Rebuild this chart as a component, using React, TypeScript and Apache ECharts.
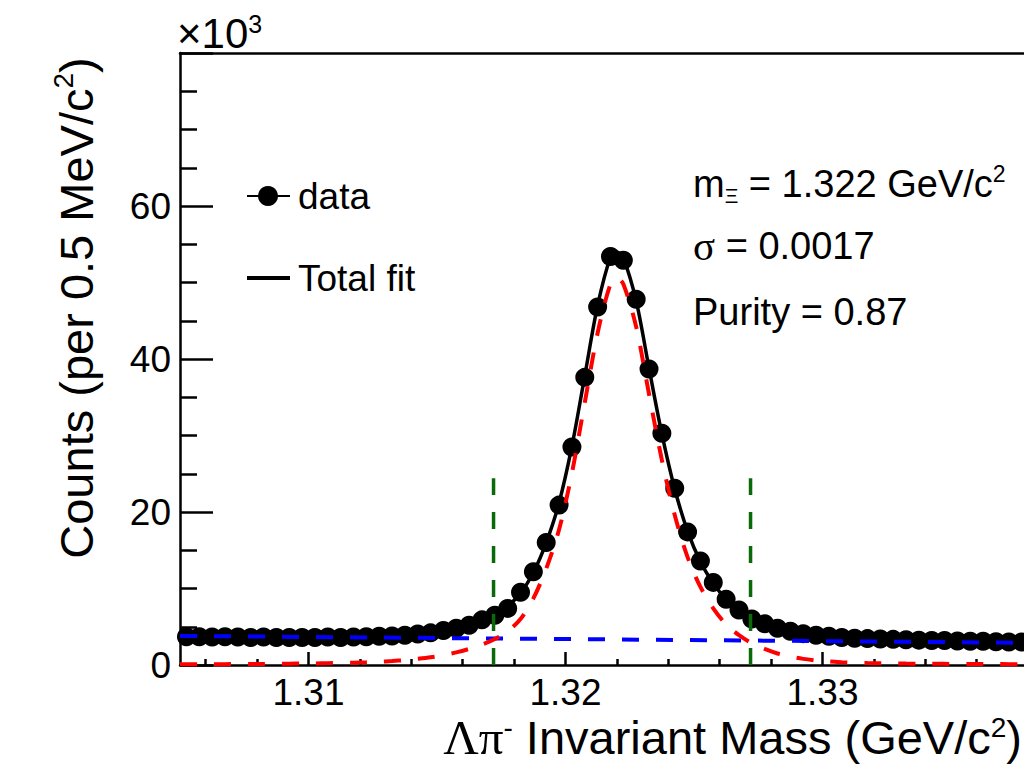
import React, { useEffect, useRef } from 'react';
import * as echarts from 'echarts';

// Bin centres (GeV/c^2), 0.5 MeV bins
const binCenters = [
  1.30525, 1.30575, 1.30625, 1.30675, 1.30725, 1.30775, 1.30825, 1.30875, 1.30925, 1.30975,
  1.31025, 1.31075, 1.31125, 1.31175, 1.31225, 1.31275, 1.31325, 1.31375, 1.31425, 1.31475,
  1.31525, 1.31575, 1.31625, 1.31675, 1.31725, 1.31775, 1.31825, 1.31875, 1.31925, 1.31975,
  1.32025, 1.32075, 1.32125, 1.32175, 1.32225, 1.32275, 1.32325, 1.32375, 1.32425, 1.32475,
  1.32525, 1.32575, 1.32625, 1.32675, 1.32725, 1.32775, 1.32825, 1.32875, 1.32925, 1.32975,
  1.33025, 1.33075, 1.33125, 1.33175, 1.33225, 1.33275, 1.33325, 1.33375, 1.33425, 1.33475,
  1.33525, 1.33575, 1.33625, 1.33675, 1.33725, 1.33775, 1.33825,
];

// Data counts (x10^3)
const counts = [
  3.7, 3.7, 3.65, 3.7, 3.65, 3.6, 3.65, 3.6, 3.6, 3.6,
  3.6, 3.65, 3.6, 3.65, 3.7, 3.75, 3.8, 3.9, 4.05, 4.2,
  4.5, 4.8, 5.2, 5.9, 6.5, 7.4, 9.5, 12.2, 16.0, 20.9,
  28.5, 37.6, 46.8, 53.4, 52.9, 47.8, 38.7, 30.3, 23.1, 17.4,
  13.6, 10.8, 8.6, 7.2, 6.0, 5.4, 4.8, 4.4, 4.1, 3.9,
  3.75, 3.6, 3.5, 3.45, 3.4, 3.35, 3.3, 3.25, 3.2, 3.2,
  3.15, 3.1, 3.1, 3.05, 3.0, 3.0, 2.95,
];

// Curve sample positions: range ends, bin centres and the peak position
const curveX = [1.305, ...binCenters.slice(0, 34), 1.322, ...binCenters.slice(34), 1.34];

// Total fit (x10^3)
const totalFit = [
  3.72,
  3.72, 3.71, 3.7, 3.69, 3.68, 3.67, 3.67, 3.66, 3.66, 3.66,
  3.66, 3.67, 3.68, 3.7, 3.73, 3.77, 3.83, 3.92, 4.04, 4.2,
  4.45, 4.8, 5.25, 5.85, 6.65, 7.7, 9.4, 12.1, 16.0, 21.2,
  28.6, 37.8, 47.0, 53.3,
  54.0,
  53.2, 47.6, 38.8, 30.2, 23.0, 17.5, 13.5, 10.7, 8.6, 7.2,
  6.1, 5.35, 4.8, 4.4, 4.1, 3.88, 3.72, 3.6, 3.5, 3.43,
  3.38, 3.33, 3.29, 3.25, 3.21, 3.18, 3.14, 3.11, 3.08, 3.05,
  3.02, 2.99, 2.96,
  2.9,
];

// Signal component (x10^3)
const signalFit = [
  0.1,
  0.1, 0.1, 0.1, 0.11, 0.12, 0.13, 0.14, 0.15, 0.17, 0.19,
  0.21, 0.24, 0.27, 0.31, 0.36, 0.43, 0.52, 0.64, 0.8, 1.0,
  1.3, 1.65, 2.1, 2.65, 3.4, 4.4, 6.0, 8.7, 12.6, 17.7,
  25.1, 34.3, 43.4, 49.8,
  50.6,
  49.8, 44.2, 35.4, 26.8, 19.6, 14.1, 10.2, 7.4, 5.3, 3.9,
  2.85, 2.1, 1.5, 1.1, 0.8, 0.6, 0.46, 0.37, 0.3, 0.26,
  0.23, 0.2, 0.18, 0.17, 0.16, 0.15, 0.14, 0.13, 0.12, 0.12,
  0.11, 0.11, 0.1,
  0.09,
];

// Linear background (x10^3)
const bkgX = [1.305, 1.34];
const bkgY = [3.8, 2.85];

// Signal window edges
const windowEdges = [1.3172, 1.3272];
const windowTop = 24.4;

// Axis ticks / labels
const xMajorTicks = [1.31, 1.32, 1.33];
const xMinorTicks = [1.306, 1.308, 1.312, 1.314, 1.316, 1.318, 1.322, 1.324, 1.326, 1.328, 1.332, 1.334, 1.336, 1.338];
const yLabels = [0, 20, 40, 60];

const SANS = 'Liberation Sans, Arial, Helvetica, sans-serif';
const SERIF = 'Liberation Serif, Times New Roman, serif';

export default function App() {
  const ref = useRef<HTMLDivElement>(null);
  useEffect(() => {
    const chart = echarts.init(ref.current!, null, { renderer: 'svg' });
    const axisColor = '#000';
    const xMin = 1.305;
    const xMax = 1.34;

    const option: any = {
      animation: false,
      backgroundColor: '#fff',
      grid: { left: 180, top: 53, width: 899.5, height: 612, containLabel: false, outerBoundsMode: 'none' },
      xAxis: [
        {
          type: 'value', min: xMin, max: xMax, position: 'bottom',
          axisLine: { show: true, onZero: false, lineStyle: { color: axisColor, width: 2.5 } },
          axisTick: { show: true, inside: true, length: 13, customValues: xMajorTicks, lineStyle: { color: axisColor, width: 2.5 } },
          axisLabel: { show: true, customValues: xMajorTicks, color: '#000', fontSize: 37, fontFamily: SANS, margin: 9, lineHeight: 36 },
          splitLine: { show: false },
        },
        {
          type: 'value', min: xMin, max: xMax, position: 'bottom',
          axisLine: { show: false, onZero: false },
          axisTick: { show: true, inside: true, length: 6, customValues: xMinorTicks, lineStyle: { color: axisColor, width: 2.5 } },
          axisLabel: { show: false },
          splitLine: { show: false },
        },
        {
          type: 'value', min: xMin, max: xMax, position: 'top',
          axisLine: { show: true, onZero: false, lineStyle: { color: axisColor, width: 2.5 } },
          axisTick: { show: false },
          axisLabel: { show: false },
          splitLine: { show: false },
        },
      ],
      yAxis: [
        {
          type: 'value', min: 0, max: 80, interval: 20, position: 'left',
          axisLine: { show: true, onZero: false, lineStyle: { color: axisColor, width: 2.5 } },
          axisTick: { show: true, inside: true, length: 33, lineStyle: { color: axisColor, width: 2.5 } },
          minorTick: { show: true, splitNumber: 4, length: 17, lineStyle: { color: axisColor, width: 2.5 } },
          axisLabel: { show: true, customValues: yLabels, color: '#000', fontSize: 37, fontFamily: SANS, margin: 9 },
          splitLine: { show: false },
          minorSplitLine: { show: false },
        },
        {
          type: 'value', min: 0, max: 80, position: 'right',
          axisLine: { show: true, onZero: false, lineStyle: { color: axisColor, width: 2.5 } },
          axisTick: { show: false },
          axisLabel: { show: false },
          splitLine: { show: false },
        },
      ],
      series: [
        {
          name: 'data', type: 'scatter', xAxisIndex: 0, yAxisIndex: 0,
          symbol: 'circle', symbolSize: 19, z: 2,
          itemStyle: { color: '#000', opacity: 1 },
          data: binCenters.map((x, i) => [x, counts[i]]),
        },
        {
          name: 'Total fit', type: 'line', xAxisIndex: 0, yAxisIndex: 0,
          smooth: 0.3, showSymbol: false, symbol: 'none', z: 3,
          lineStyle: { color: '#000', width: 3.5 },
          data: curveX.map((x, i) => [x, totalFit[i]]),
        },
        {
          name: 'Background', type: 'line', xAxisIndex: 0, yAxisIndex: 0,
          showSymbol: false, symbol: 'none', z: 4,
          lineStyle: { color: '#0000ff', width: 4, type: [17, 17] },
          data: bkgX.map((x, i) => [x, bkgY[i]]),
        },
        {
          name: 'Signal', type: 'line', xAxisIndex: 0, yAxisIndex: 0,
          smooth: 0.3, showSymbol: false, symbol: 'none', z: 5,
          lineStyle: { color: '#ff0000', width: 4, type: [17, 17] },
          data: curveX.map((x, i) => [x, signalFit[i]]),
        },
        ...windowEdges.map((x, k) => ({
          name: 'window' + k, type: 'line', xAxisIndex: 0, yAxisIndex: 0,
          showSymbol: false, symbol: 'none', z: 6,
          lineStyle: { color: '#0a6a0a', width: 3.5, type: [17, 17] },
          data: [[x, 0], [x, windowTop]],
        })),
      ],
      graphic: [
        // x10^3
        {
          type: 'text', x: 177, y: 33,
          style: {
            text: '{n|×10}{sup|3}', align: 'left', verticalAlign: 'middle',
            rich: {
              n: { fontFamily: SANS, fontSize: 42, lineHeight: 44, fill: '#000' },
              sup: { fontFamily: SANS, fontSize: 25, lineHeight: 22, verticalAlign: 'top', fill: '#000' },
            },
          },
        },
        // y title
        {
          type: 'text', x: 76, y: 308, rotation: Math.PI / 2,
          style: {
            text: '{n|Counts (per 0.5 MeV/c}{sup|2}{n|)}', align: 'center', verticalAlign: 'middle',
            rich: {
              n: { fontFamily: SANS, fontSize: 47, lineHeight: 54, fill: '#000' },
              sup: { fontFamily: SANS, fontSize: 28, lineHeight: 28, verticalAlign: 'top', fill: '#000' },
            },
          },
        },
        // x title
        {
          type: 'text', x: 1022, y: 737,
          style: {
            text: '{s|Λπ}{sup|-}{n| Invariant Mass (GeV/c}{sup|2}{n|)}', align: 'right', verticalAlign: 'middle',
            rich: {
              s: { fontFamily: SERIF, fontSize: 49, lineHeight: 48, fill: '#000' },
              n: { fontFamily: SANS, fontSize: 47, lineHeight: 48, fill: '#000' },
              sup: { fontFamily: SANS, fontSize: 28, lineHeight: 26, verticalAlign: 'top', fill: '#000' },
            },
          },
        },
        // legend: data
        { type: 'line', shape: { x1: 247, y1: 196, x2: 290, y2: 196 }, style: { stroke: '#000', lineWidth: 2 } },
        { type: 'circle', shape: { cx: 268, cy: 196, r: 10 }, style: { fill: '#000' } },
        { type: 'text', x: 298, y: 196, style: { text: 'data', fontFamily: SANS, fontSize: 37, fill: '#000', align: 'left', verticalAlign: 'middle' } },
        // legend: total fit
        { type: 'line', shape: { x1: 247, y1: 278, x2: 290, y2: 278 }, style: { stroke: '#000', lineWidth: 4 } },
        { type: 'text', x: 298, y: 278, style: { text: 'Total fit', fontFamily: SANS, fontSize: 37, fill: '#000', align: 'left', verticalAlign: 'middle' } },
        // annotations
        {
          type: 'text', x: 693, y: 184,
          style: {
            text: '{n|m}{sub|Ξ}{n| = 1.322 GeV/c}{sup|2}', align: 'left', verticalAlign: 'middle',
            rich: {
              n: { fontFamily: SANS, fontSize: 38, lineHeight: 44, fill: '#000' },
              sub: { fontFamily: SANS, fontSize: 21, lineHeight: 14, verticalAlign: 'bottom', fill: '#000' },
              sup: { fontFamily: SANS, fontSize: 23, lineHeight: 22, verticalAlign: 'top', fill: '#000' },
            },
          },
        },
        {
          type: 'text', x: 693, y: 246,
          style: {
            text: '{g|σ}{n| = 0.0017}', align: 'left', verticalAlign: 'middle',
            rich: {
              g: { fontFamily: SERIF, fontSize: 41, lineHeight: 44, fill: '#000' },
              n: { fontFamily: SANS, fontSize: 38, lineHeight: 44, fill: '#000' },
            },
          },
        },
        {
          type: 'text', x: 693, y: 312,
          style: { text: 'Purity = 0.87', fontFamily: SANS, fontSize: 38, fill: '#000', align: 'left', verticalAlign: 'middle' },
        },
      ],
    };
    chart.setOption(option);
    return () => chart.dispose();
  }, []);

  return (
    <div style={{ position: 'fixed', left: 0, top: 0, width: 1024, height: 778, overflow: 'hidden', background: '#fff' }}>
      <div ref={ref} style={{ width: 1100, height: 778 }} />
    </div>
  );
}
